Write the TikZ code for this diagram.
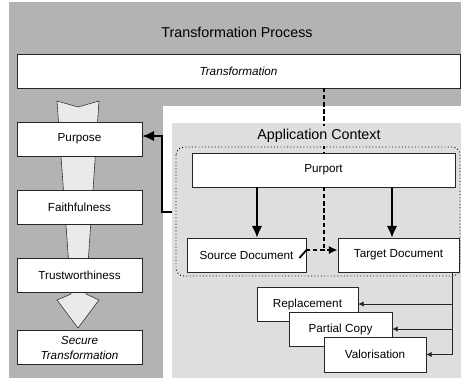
\documentclass[tikz,border=0pt]{standalone}
\usepackage{fontspec}
\setmainfont{Liberation Sans}
\usepackage{xcolor}
\usepackage{tikz}
\usetikzlibrary{arrows.meta,positioning}

\definecolor{procgray}{RGB}{179,179,179}
\definecolor{ctxgray}{RGB}{222,222,222}
\definecolor{flowgray}{RGB}{234,234,234}

\begin{document}
\begin{tikzpicture}[x=0.03cm,y=-0.03cm,
	box/.style={draw=black!85,line width=0.6pt,fill=white,inner sep=0pt,
		minimum height=1.02cm,align=center,font=\fontsize{10}{12.8}\selectfont},
	heading/.style={font=\fontsize{12.2}{14}\selectfont},
	solidarrow/.style={-{Latex[length=10pt,width=9pt]},line width=1.6pt},
	dashline/.style={line width=1.7pt,dash pattern=on 3.5pt off 2.5pt},
	thinarrow/.style={-{Latex[length=4.5pt,width=4.5pt]},line width=0.6pt,draw=black!85}]
	\useasboundingbox (0,0) rectangle (461,378);
	
	% process area and application context
	\fill[procgray] (9,2) rectangle (461,378);
	\fill[white] (163,106) rectangle (461,378);
	\fill[ctxgray] (172,123) rectangle (461,378);
	\coordinate (ctxin) at (172,212);
	\node[heading] (proc) at (237,32) {Transformation Process};
	
	% the flow arrow behind the left column
	\draw[fill=flowgray,draw=black!80,line width=0.5pt]
		(57,101) -- (78,107) -- (99,101) -- (86,294) -- (99,300)
		-- (78,328) -- (57,300) -- (71,294) -- cycle;
	
	\node[box,minimum width=13.29cm] (trans) at (238.5,71) {\textit{Transformation}};
	\node[box,minimum width=3.75cm] (purpose) at (79.5,139) {Purpose};
	\node[box,minimum width=3.75cm] (faith) at (79.5,207.5) {Faithfulness};
	\node[box,minimum width=3.75cm] (trust) at (79.5,275.5) {Trustworthiness};
	\node[box,minimum width=3.75cm] (secure) at (79.5,347.5) {\textit{Secure}\\\textit{Transformation}};
	
	% context boxes
	\draw[dotted,line width=0.8pt,rounded corners=0.24cm] (176,147) rectangle (460,276);
	\node[box,minimum width=7.89cm] (purport) at (323.5,170) {Purport};
	\node[box,minimum width=3.57cm] (src) at (246.5,255) {Source Document};
	\node[box,minimum width=3.63cm] (tgt) at (398.5,255) {Target Document};
	
	\draw[dashline] (trans.south -| purport.north) -- (purport.north);
	\node[heading,fill=ctxgray,inner sep=1pt,minimum height=0.6cm] (ctxtitle) at (319,136) {Application Context};
	
	\draw[solidarrow] ([shift={(10.5,0)}]src.north |- purport.south) -- ([shift={(10.5,0)}]src.north);
	\draw[solidarrow] ([shift={(-6.5,0)}]tgt.north |- purport.south) -- ([shift={(-6.5,0)}]tgt.north);
	\draw[dashline] (purport.south) -- ([shift={(0,-5)}]purport.south |- src.east);
	\draw[dashline,-{Latex[length=7.5pt,width=7pt]}] ([shift={(0,-5)}]src.east) -- ([shift={(0,-5)}]tgt.west);
	\draw[line width=1.5pt] ([shift={(-7,3)}]src.east) -- ([shift={(1,-6)}]src.east);
	
	\draw[solidarrow] (ctxin) -- ++(-10,0) |- ([shift={(0,-3)}]purpose.east);
	
	% uses of the target document
	\node[box,minimum width=3.03cm] (repl) at (307.5,304) {Replacement};
	\node[box,minimum width=3.09cm] (part) at (340.5,329) {Partial Copy};
	\node[box,minimum width=3.06cm,minimum height=1.05cm] (valo) at (375,354.5) {Valorisation};
	\coordinate (bus) at ([shift={(-7,0)}]tgt.south east);
	\draw[thinarrow] (bus) |- (repl);
	\draw[thinarrow] (bus) |- (part);
	\draw[thinarrow] (bus) |- (valo);
\end{tikzpicture}
\end{document}
